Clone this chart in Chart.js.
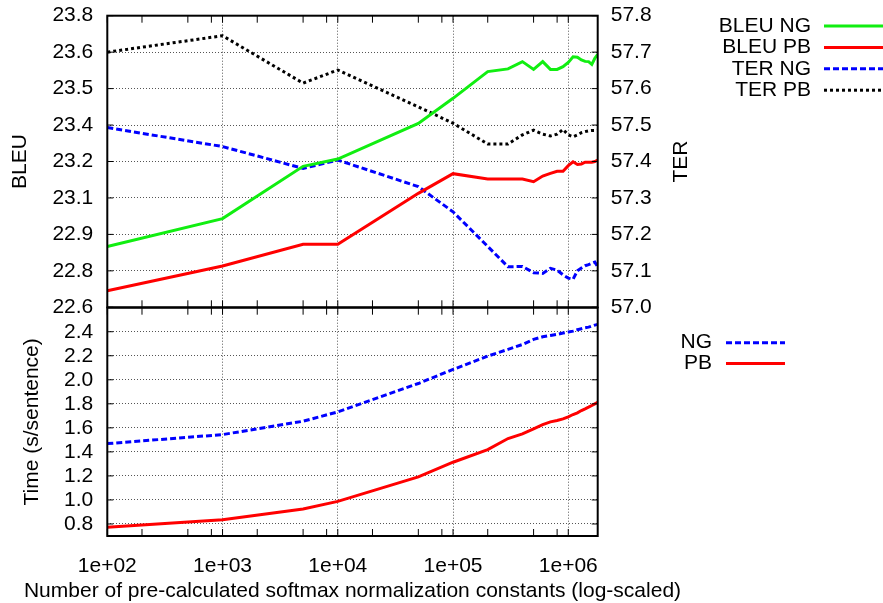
<!DOCTYPE html>
<html>
<head>
<meta charset="utf-8">
<script src="https://cdn.jsdelivr.net/npm/chart.js@4.4.0/dist/chart.umd.min.js"></script>
<style>
  html, body { margin: 0; padding: 0; background: #fff; }
  #wrap { position: relative; width: 883px; height: 603px; overflow: hidden; }
  #top { position: absolute; left: 0; top: 0; }
  #bottom { position: absolute; left: 0; top: 300px; }
</style>
</head>
<body>
<div id="wrap">
  <canvas id="top" width="883" height="330"></canvas>
  <canvas id="bottom" width="883" height="303"></canvas>
</div>
<script>
// number of pre-calculated normalization constants
const constants = [100, 1000, 5000, 10000, 50000, 100000, 200000, 300000, 400000, 500000,
  600000, 700000, 800000, 900000, 1000000, 1100000, 1200000, 1300000, 1400000, 1500000,
  1600000, 1700000, 1800000];

const bleuNG = [22.85, 22.965, 23.18, 23.21, 23.357, 23.46, 23.57, 23.581, 23.611, 23.579,
  23.611, 23.579, 23.579, 23.59, 23.608, 23.631, 23.629, 23.618, 23.612, 23.611,
  23.6, 23.625, 23.641];
const bleuPB = [22.668, 22.77, 22.859, 22.859, 23.069, 23.15, 23.128, 23.128, 23.128, 23.117,
  23.14, 23.151, 23.16, 23.16, 23.183, 23.199, 23.188, 23.19, 23.197, 23.197,
  23.197, 23.2, 23.206];
const terNG = [57.493, 57.441, 57.381, 57.404, 57.331, 57.262, 57.167, 57.111, 57.112, 57.095,
  57.093, 57.107, 57.102, 57.089, 57.08, 57.077, 57.1, 57.108, 57.114, 57.117,
  57.121, 57.124, 57.111];
const terPB = [57.70, 57.745, 57.615, 57.651, 57.55, 57.505, 57.448, 57.448, 57.473, 57.486,
  57.475, 57.47, 57.475, 57.488, 57.473, 57.468, 57.473, 57.479, 57.482, 57.484,
  57.485, 57.485, 57.486];

const timeNG = [1.469, 1.544, 1.655, 1.733, 1.969, 2.086, 2.197, 2.253, 2.294, 2.336,
  2.358, 2.369, 2.378, 2.389, 2.397, 2.405, 2.417, 2.425, 2.433, 2.438,
  2.447, 2.455, 2.461];
const timePB = [0.772, 0.836, 0.925, 0.988, 1.192, 1.314, 1.419, 1.511, 1.55, 1.592,
  1.627, 1.65, 1.661, 1.675, 1.692, 1.711, 1.725, 1.744, 1.758, 1.772,
  1.786, 1.80, 1.813];

const xTickValues = [100, 1000, 10000, 100000, 1000000];
const xTickLabels = ['1e+02', '1e+03', '1e+04', '1e+05', '1e+06'];
const bleuTicks = [22.6, 22.75, 22.9, 23.05, 23.2, 23.35, 23.5, 23.65, 23.8];
const bleuTickLabels = ['22.6', '22.8', '22.9', '23.1', '23.2', '23.4', '23.5', '23.6', '23.8'];
const terTicks = [57.0, 57.1, 57.2, 57.3, 57.4, 57.5, 57.6, 57.7, 57.8];
const terTickLabels = ['57.0', '57.1', '57.2', '57.3', '57.4', '57.5', '57.6', '57.7', '57.8'];
const timeTicks = [0.8, 1.0, 1.2, 1.4, 1.6, 1.8, 2.0, 2.2, 2.4];
const timeTickLabels = ['0.8', '1.0', '1.2', '1.4', '1.6', '1.8', '2.0', '2.2', '2.4'];

// minor x tics at 2, 5, 8 of each decade
const xAllTicks = [];
xTickValues.forEach(d => {
  xAllTicks.push(d);
  [2, 5, 8].forEach(m => { if (d * m <= 1800000) xAllTicks.push(d * m); });
});

const FONT = "'Liberation Sans', Arial, sans-serif";
Chart.defaults.font.family = FONT;
Chart.defaults.font.size = 21;
Chart.defaults.color = '#000';

const gridColor = '#555';
const pts = ys => constants.map((x, i) => ({ x: x, y: ys[i] }));

// keep chart areas where gnuplot put them: no label overhang padding
const noPad = s => { s.paddingTop = 0; s.paddingBottom = 0; s.paddingLeft = 0; s.paddingRight = 0; };

function xAxis(showLabels) {
  return {
    type: 'logarithmic',
    min: 100,
    max: 1800000,
    afterBuildTicks: s => { s.ticks = xAllTicks.map(v => ({ value: v })); },
    ticks: {
      display: showLabels,
      autoSkip: false,
      maxRotation: 0,
      padding: 18,
      callback: v => {
        const i = xTickValues.indexOf(v);
        return i < 0 ? '' : xTickLabels[i];
      }
    },
    grid: {
      drawTicks: false,
      lineWidth: 1,
      color: c => (c.tick && xTickValues.includes(c.tick.value)) ? gridColor : 'rgba(0,0,0,0)'
    },
    border: { display: false, dash: [1, 2] },
    afterFit: s => { s.height = showLabels ? 67 : 0; noPad(s); }
  };
}

function yAxis(pos, min, max, values, labels, pad, width) {
  return {
    position: pos,
    min: min,
    max: max,
    afterBuildTicks: s => { s.ticks = values.map(v => ({ value: v })); },
    ticks: { autoSkip: false, padding: pad, callback: (v, i) => labels[i] },
    grid: { drawTicks: false, color: gridColor, lineWidth: 1, display: pos === 'left' },
    border: { display: false, dash: [1, 2] },
    afterFit: s => { s.width = width; noPad(s); }
  };
}

const gnuFrame = {
  id: 'gnuFrame',
  afterDraw(chart, args, o) {
    const { ctx, chartArea: a, scales } = chart;
    const seg = (x1, y1, x2, y2) => { ctx.beginPath(); ctx.moveTo(x1, y1); ctx.lineTo(x2, y2); ctx.stroke(); };
    ctx.save();
    ctx.strokeStyle = '#000';
    ctx.lineWidth = 1;
    scales.x.ticks.forEach(t => {
      const px = scales.x.getPixelForValue(t.value);
      seg(px, a.top, px, a.top + 7);
      seg(px, a.bottom, px, a.bottom - 7);
    });
    scales.y.ticks.forEach(t => {
      const py = scales.y.getPixelForValue(t.value);
      seg(a.left, py, a.left + 6, py);
      seg(a.right, py, a.right - 6, py);
    });
    ctx.lineWidth = 2;
    ctx.strokeRect(a.left, a.top, a.right - a.left, a.bottom - a.top);

    ctx.font = '21px ' + FONT;
    ctx.fillStyle = '#000';

    // key: text right aligned, sample line after it
    ctx.textAlign = 'right';
    ctx.textBaseline = 'middle';
    chart.data.datasets.forEach((ds, i) => {
      const y = o.keyTop + i * o.keyStep;
      ctx.fillText(ds.label, o.keyTextRight, y);
      ctx.save();
      ctx.strokeStyle = ds.borderColor;
      ctx.lineWidth = ds.borderWidth;
      ctx.setLineDash(ds.borderDash || []);
      seg(o.keyLineStart, y, o.keyLineEnd, y);
      ctx.restore();
    });

    ctx.textAlign = 'center';
    if (o.leftTitle) {
      ctx.save();
      ctx.translate(o.leftTitleX, (a.top + a.bottom) / 2);
      ctx.rotate(-Math.PI / 2);
      ctx.fillText(o.leftTitle, 0, 0);
      ctx.restore();
    }
    if (o.rightTitle) {
      ctx.save();
      ctx.translate(o.rightTitleX, (a.top + a.bottom) / 2);
      ctx.rotate(-Math.PI / 2);
      ctx.fillText(o.rightTitle, 0, 0);
      ctx.restore();
    }
    if (o.xTitle) {
      ctx.fillText(o.xTitle, (a.left + a.right) / 2, o.xTitleY);
    }
    ctx.restore();
  }
};

const green = '#11ee11', red = '#ff0000', blue = '#0000ff', black = '#000000';

new Chart(document.getElementById('top'), {
  type: 'line',
  data: {
    datasets: [
      { label: 'BLEU NG', data: pts(bleuNG), yAxisID: 'y', borderColor: green, borderWidth: 3 },
      { label: 'BLEU PB', data: pts(bleuPB), yAxisID: 'y', borderColor: red, borderWidth: 3 },
      { label: 'TER NG', data: pts(terNG), yAxisID: 'y2', borderColor: blue, borderWidth: 3, borderDash: [6, 3] },
      { label: 'TER PB', data: pts(terPB), yAxisID: 'y2', borderColor: black, borderWidth: 3, borderDash: [3, 3] }
    ]
  },
  options: {
    responsive: false,
    animation: false,
    devicePixelRatio: 1,
    layout: { padding: { top: 15.7, bottom: 22.7, left: 0, right: 0 } },
    elements: { point: { radius: 0 }, line: { tension: 0, borderCapStyle: 'butt' } },
    plugins: {
      legend: { display: false },
      tooltip: { enabled: false },
      gnuFrame: { keyTop: 26, keyStep: 21.4, keyTextRight: 811, keyLineStart: 824, keyLineEnd: 890,
        leftTitle: 'BLEU', leftTitleX: 20, rightTitle: 'TER', rightTitleX: 681 }
    },
    scales: {
      x: xAxis(false),
      y: yAxis('left', 22.6, 23.8, bleuTicks, bleuTickLabels, 14, 107.3),
      y2: yAxis('right', 57.0, 57.8, terTicks, terTickLabels, 13, 285.3)
    }
  },
  plugins: [gnuFrame]
});

new Chart(document.getElementById('bottom'), {
  type: 'line',
  data: {
    datasets: [
      { label: 'NG', data: pts(timeNG), borderColor: blue, borderWidth: 3, borderDash: [6, 3] },
      { label: 'PB', data: pts(timePB), borderColor: red, borderWidth: 3 }
    ]
  },
  options: {
    responsive: false,
    animation: false,
    devicePixelRatio: 1,
    layout: { padding: { top: 7.7, bottom: 0, left: 0, right: 285.3 } },
    elements: { point: { radius: 0 }, line: { tension: 0, borderCapStyle: 'butt' } },
    plugins: {
      legend: { display: false },
      tooltip: { enabled: false },
      gnuFrame: { keyTop: 42.7, keyStep: 20.7, keyTextRight: 712, keyLineStart: 726, keyLineEnd: 785,
        leftTitle: 'Time (s/sentence)', leftTitleX: 32,
        xTitle: 'Number of pre-calculated softmax normalization constants (log-scaled)', xTitleY: 291 }
    },
    scales: {
      x: xAxis(true),
      y: yAxis('left', 0.7, 2.6, timeTicks, timeTickLabels, 14, 107.3)
    }
  },
  plugins: [gnuFrame]
});
</script>
</body>
</html>
